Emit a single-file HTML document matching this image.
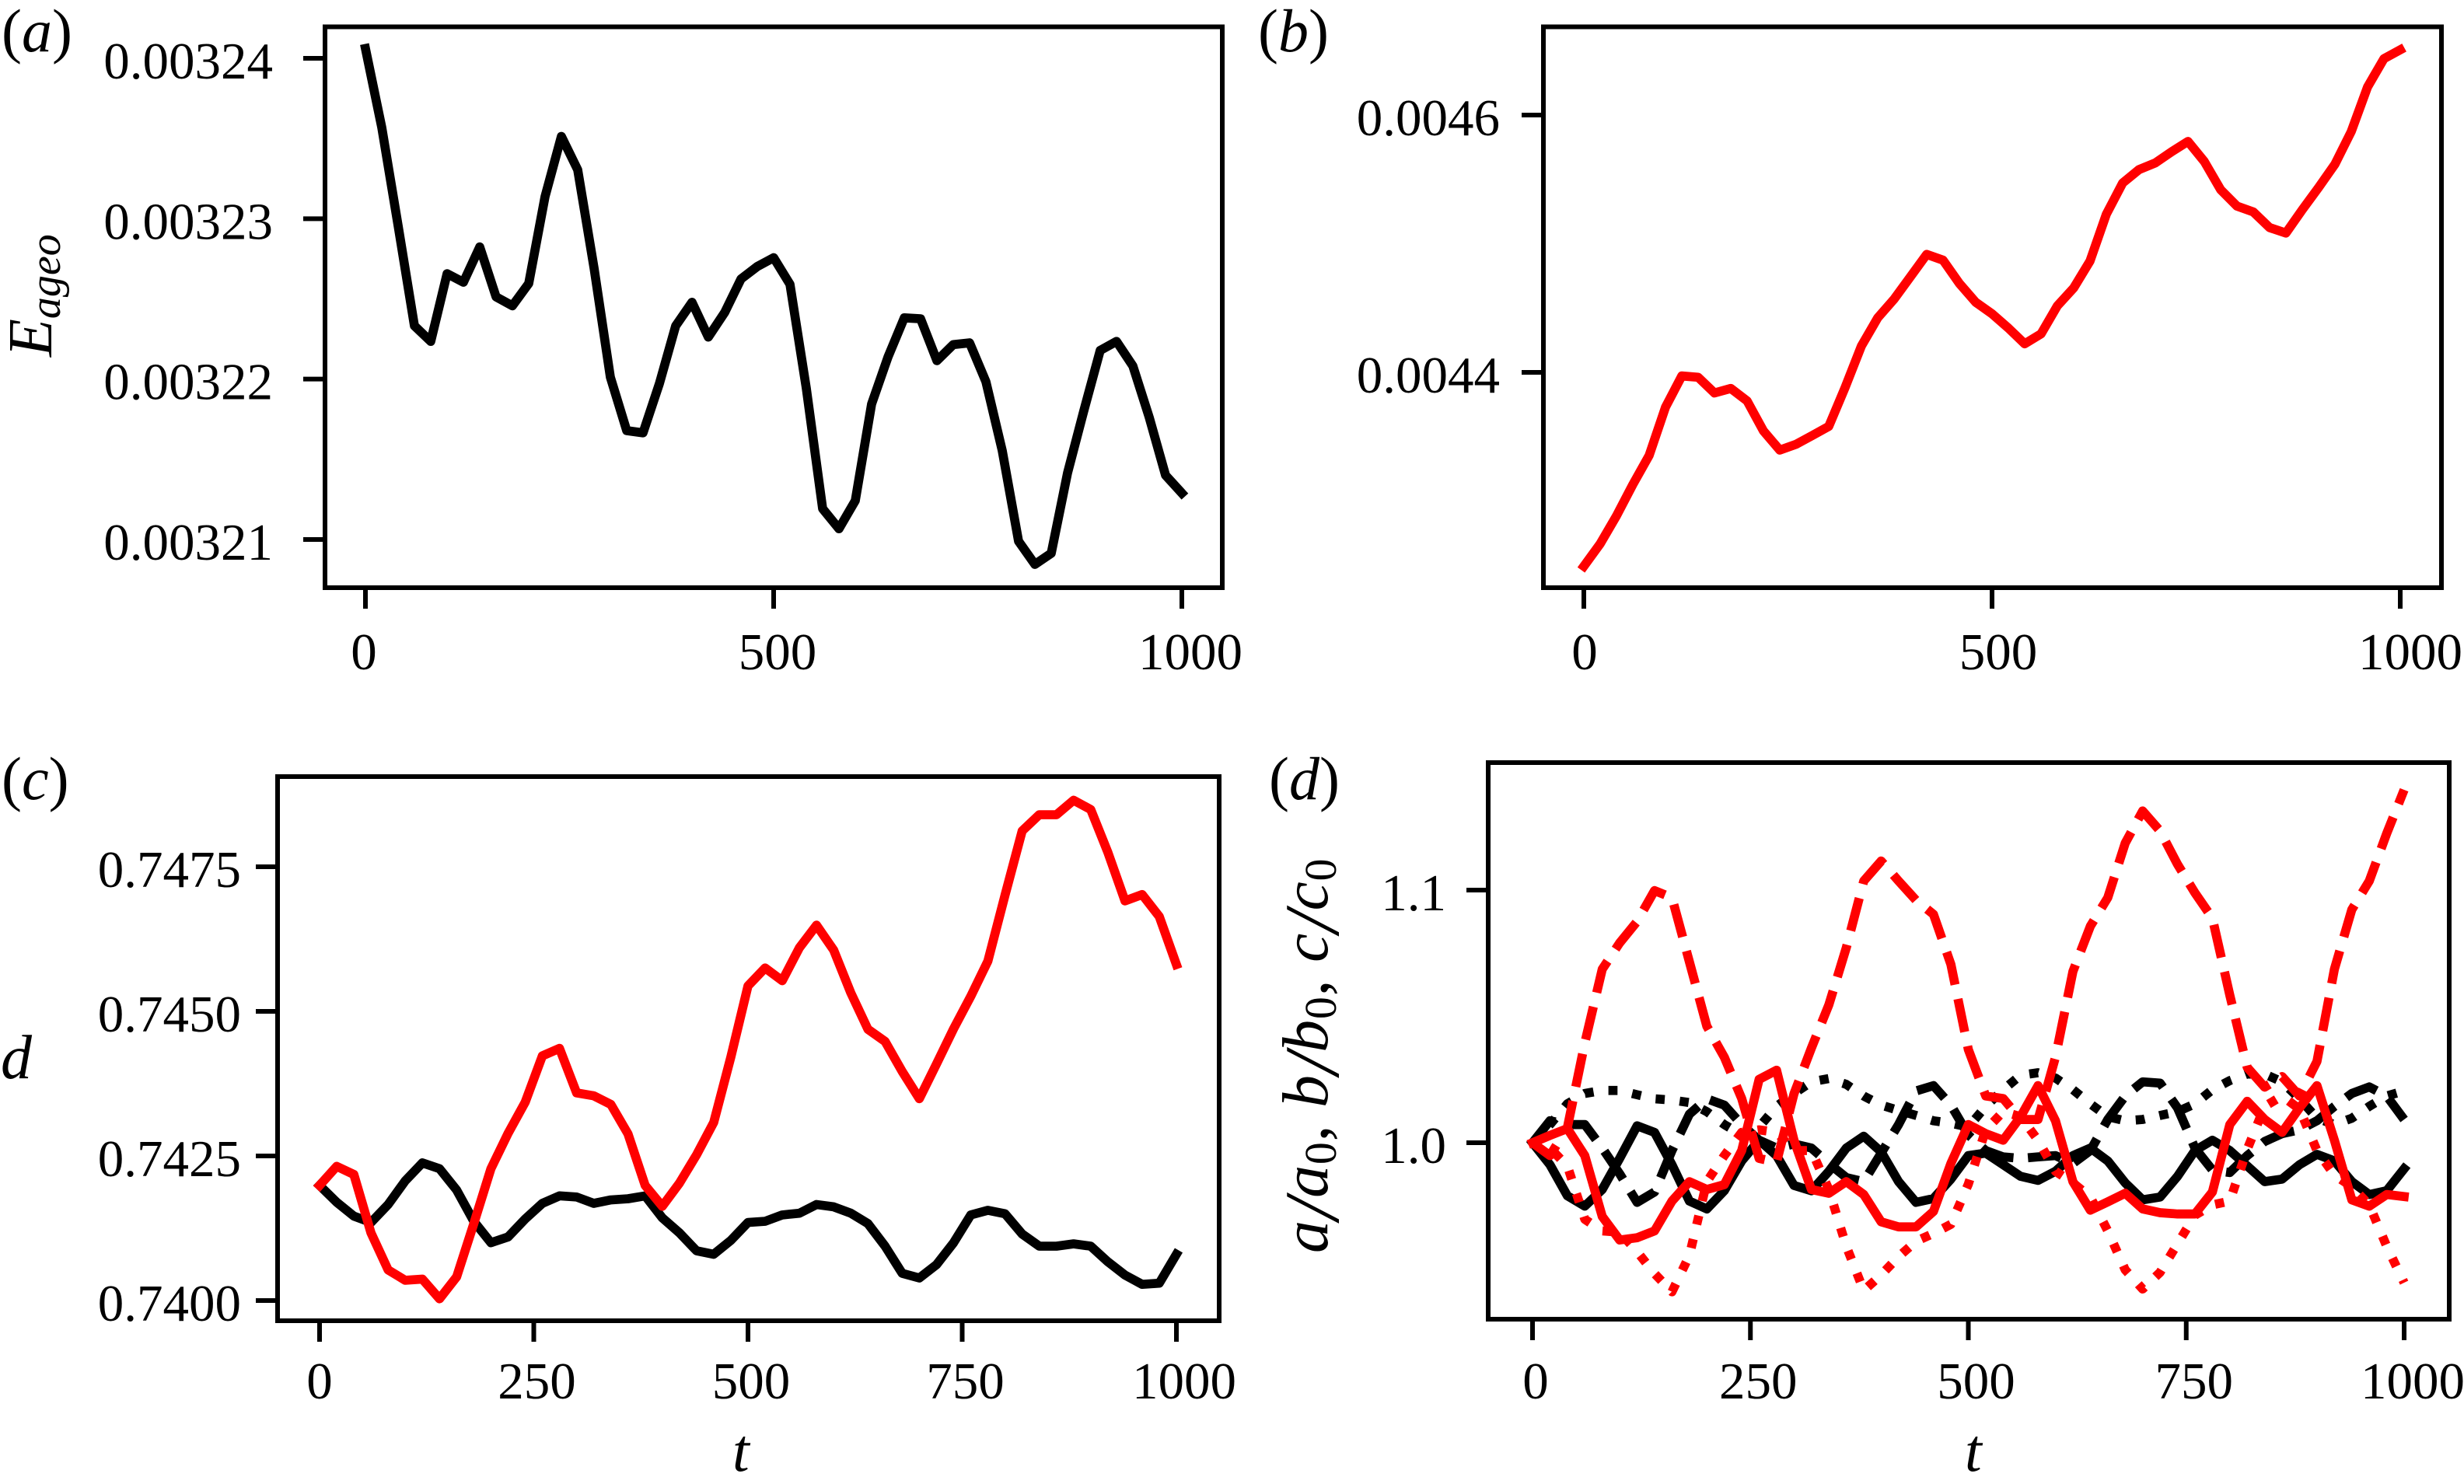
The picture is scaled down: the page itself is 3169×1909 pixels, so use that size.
<!DOCTYPE html>
<html lang="en">
<head>
<meta charset="utf-8">
<title>Four-panel time series</title>
<style>
html,body{margin:0;padding:0;background:#fff;}
svg{display:block;}
text{font-family:"Liberation Serif","DejaVu Serif",serif;fill:#000;}
</style>
</head>
<body>
<svg id="figure" xmlns="http://www.w3.org/2000/svg" width="3169" height="1909" viewBox="0 0 3169 1909">
<rect x="0" y="0" width="3169" height="1909" fill="#fff"/>
<text x="2" y="66" font-size="78">(<tspan font-style="italic">a</tspan>)</text>
<text x="1618" y="66" font-size="78">(<tspan font-style="italic">b</tspan>)</text>
<text x="2" y="1028" font-size="78">(<tspan font-style="italic">c</tspan>)</text>
<text x="1632" y="1028" font-size="78">(<tspan font-style="italic">d</tspan>)</text>
<text transform="translate(66,459) rotate(-90)" font-size="80" font-style="italic">E<tspan font-size="56" dy="11">ageo</tspan></text>
<text x="1" y="1387" font-size="80" font-style="italic">d</text>
<text transform="translate(1707,1612) rotate(-90)" font-size="84" letter-spacing="0.7"><tspan font-style="italic">a</tspan><tspan font-style="italic" font-size="100" dy="14">/</tspan><tspan font-style="italic" dy="-14">a</tspan><tspan font-size="58" dy="11">0</tspan><tspan dy="-11">, </tspan><tspan font-style="italic">b</tspan><tspan font-style="italic" font-size="100" dy="14">/</tspan><tspan font-style="italic" dy="-14">b</tspan><tspan font-size="58" dy="11">0</tspan><tspan dy="-11">, </tspan><tspan font-style="italic">c</tspan><tspan font-style="italic" font-size="100" dy="14">/</tspan><tspan font-style="italic" dy="-14">c</tspan><tspan font-size="58" dy="11">0</tspan></text>
<text x="942" y="1892" font-size="78" font-style="italic">t</text>
<text x="2527" y="1892" font-size="78" font-style="italic">t</text>
<g id="plots"></g>
</svg>
<script>
const times = [0,20,40,60,80,100,120,140,160,180,200,220,240,260,280,300,320,340,360,380,400,420,440,460,480,500,520,540,560,580,600,620,640,660,680,700,720,740,760,780,800,820,840,860,880,900,920,940,960,980,1000];

const energyRun1 = [0.00324061,0.00323569,0.00322957,0.00322332,0.00322235,0.00322657,0.00322604,0.00322824,0.00322513,0.00322457,0.00322596,0.00323138,0.00323513,0.00323305,0.00322693,0.00322012,0.00321679,0.00321665,0.00321971,0.00322332,0.00322479,0.00322262,0.00322415,0.00322624,0.00322702,0.00322757,0.00322591,0.00321943,0.00321192,0.00321067,0.00321242,0.00321845,0.00322137,0.00322382,0.00322376,0.00322115,0.00322215,0.00322226,0.00321984,0.00321554,0.00320989,0.00320845,0.00320914,0.00321415,0.00321804,0.00322179,0.00322235,0.00322082,0.00321762,0.00321401,0.00321289];

const energyRun2 = [0.0042493,0.0042667,0.0042885,0.0043128,0.0043354,0.0043729,0.0043972,0.0043962,0.0043840,0.0043875,0.0043778,0.0043545,0.0043396,0.0043441,0.0043510,0.0043580,0.0043882,0.0044205,0.0044424,0.0044569,0.0044743,0.0044917,0.0044872,0.0044691,0.0044545,0.0044455,0.0044344,0.0044222,0.0044299,0.0044517,0.0044656,0.0044865,0.0045229,0.0045472,0.0045576,0.0045628,0.0045715,0.0045795,0.0045639,0.0045420,0.0045292,0.0045247,0.0045125,0.0045083,0.0045264,0.0045437,0.0045618,0.0045872,0.0046219,0.0046438,0.0046507];

const dRun1 = [0.74199,0.74170,0.74146,0.74135,0.74166,0.74207,0.74238,0.74228,0.74191,0.74137,0.74100,0.74110,0.74141,0.74168,0.74181,0.74179,0.74168,0.74174,0.74176,0.74181,0.74143,0.74117,0.74086,0.74080,0.74104,0.74135,0.74137,0.74148,0.74151,0.74166,0.74162,0.74151,0.74133,0.74094,0.74047,0.74039,0.74062,0.74100,0.74148,0.74156,0.74150,0.74115,0.74094,0.74094,0.74098,0.74094,0.74067,0.74044,0.74028,0.74030,0.74080];

const dRun2 = [0.74199,0.74232,0.74218,0.74117,0.74053,0.74035,0.74037,0.74003,0.74041,0.74133,0.74228,0.74289,0.74343,0.74423,0.74436,0.74359,0.74354,0.74339,0.74288,0.74199,0.74163,0.74203,0.74252,0.74308,0.74421,0.74544,0.74575,0.74553,0.74610,0.74649,0.74606,0.74532,0.74469,0.74448,0.74396,0.74349,0.74409,0.74470,0.74526,0.74587,0.74701,0.74812,0.74840,0.74840,0.74865,0.74849,0.74775,0.74691,0.74702,0.74664,0.74581];

const ratioSolidRun1 = [1.0,0.9913,0.9790,0.9749,0.9815,0.9938,1.0067,1.0041,0.9913,0.9769,0.9738,0.9810,0.9928,1.0010,0.9949,0.9831,0.9810,0.9887,0.9979,1.0026,0.9964,0.9846,0.9764,0.9779,0.9856,0.9949,0.9959,0.9913,0.9867,0.9851,0.9887,0.9949,0.9979,0.9928,0.9841,0.9774,0.9785,0.9867,0.9969,1.0010,0.9969,0.9908,0.9846,0.9856,0.9913,0.9954,0.9928,0.9846,0.9795,0.9810,0.9897];

const ratioDashedRun1 = [1.0,1.0087,1.0072,1.0072,0.9979,0.9877,0.9764,0.9805,0.9969,1.0113,1.0174,1.0149,1.0072,1.0010,0.9979,0.9995,0.9979,0.9918,0.9862,0.9846,0.9959,1.0072,1.0205,1.0226,1.0149,1.0031,0.9969,0.9944,0.9938,0.9944,0.9949,0.9918,0.9969,1.0092,1.0185,1.0241,1.0236,1.0138,0.9979,0.9892,0.9882,0.9949,1.0005,1.0036,1.0051,1.0087,1.0144,1.0195,1.0221,1.0185,1.0092];

const ratioDottedRun1 = [1.0,1.0072,1.0154,1.0195,1.0207,1.0207,1.0190,1.0174,1.0169,1.0159,1.0123,1.0072,1.0031,1.0062,1.0144,1.0195,1.0241,1.0254,1.0231,1.0185,1.0149,1.0128,1.0108,1.0087,1.0077,1.0062,1.0144,1.0210,1.0267,1.0277,1.0256,1.0210,1.0154,1.0103,1.0087,1.0092,1.0108,1.0123,1.0154,1.0210,1.0246,1.0272,1.0272,1.0241,1.0174,1.0097,1.0072,1.0097,1.0144,1.0185,1.0205];

const ratioSolidRun2 = [1.0,1.0029,1.0056,0.9949,0.9708,0.9615,0.9624,0.9651,0.9769,0.9846,0.9815,0.9834,0.9969,1.0251,1.0287,1.0010,0.9815,0.9800,0.9846,0.9795,0.9687,0.9667,0.9667,0.9728,0.9918,1.0072,1.0036,1.0010,1.0103,1.0226,1.0087,0.9846,0.9733,0.9766,0.9800,0.9738,0.9723,0.9718,0.9718,0.9805,1.0072,1.0164,1.0092,1.0041,1.0138,1.0226,1.0010,0.9774,0.9749,0.9795,0.9787];

const ratioDashedRun2 = [1.0,0.9949,1.0060,1.0395,1.0687,1.0791,1.0876,1.0998,1.0970,1.0716,1.0461,1.0339,1.0175,0.9938,0.9923,1.0194,1.0375,1.0546,1.0772,1.1036,1.1115,1.1036,1.0960,1.0904,1.0706,1.0369,1.0185,1.0175,1.0092,1.0092,1.0339,1.0678,1.0857,1.0970,1.1186,1.1313,1.1234,1.1102,1.0989,1.0889,1.0584,1.0298,1.0220,1.0262,1.0185,1.0322,1.0687,1.0923,1.1036,1.1224,1.1397];

const ratioDottedRun2 = [1.0,0.9979,0.9908,0.9697,0.9651,0.9646,0.9569,0.9482,0.9410,0.9554,0.9846,0.9949,1.0041,1.0051,1.0041,0.9969,0.9969,0.9815,0.9590,0.9415,0.9477,0.9549,0.9610,0.9641,0.9677,0.9836,1.0051,1.0123,1.0103,1.0010,0.9887,0.9841,0.9785,0.9651,0.9497,0.9421,0.9487,0.9600,0.9713,0.9754,0.9769,0.9974,1.0144,1.0185,1.0133,0.9969,0.9872,0.9826,0.9754,0.9590,0.9446];

const xTicksTop = [0,500,1000];
const xTickLabelsTop = ['0','500','1000'];
const xTicksBottom = [0,250,500,750,1000];
const xTickLabelsBottom = ['0','250','500','750','1000'];
const yTicksA = [0.00321,0.00322,0.00323,0.00324];
const yTickLabelsA = ['0.00321','0.00322','0.00323','0.00324'];
const yTicksB = [0.0044,0.0046];
const yTickLabelsB = ['0.0044','0.0046'];
const yTicksC = [0.7400,0.7425,0.7450,0.7475];
const yTickLabelsC = ['0.7400','0.7425','0.7450','0.7475'];
const yTicksD = [1.0,1.1];
const yTickLabelsD = ['1.0','1.1'];

const SVGNS = 'http://www.w3.org/2000/svg';
const plots = document.getElementById('plots');
const LINE_WIDTH = 11.7;
const DASHES = {solid: null, dashed: '43.3 18.7', dotted: '11.7 19.3'};

function linearScale(d0, d1, r0, r1) {
  return function (v) { return r0 + (v - d0) * (r1 - r0) / (d1 - d0); };
}

function drawPanel(cfg) {
  const id = cfg.id;
  const xOf = linearScale(0, 1000, cfg.x0, cfg.x1);
  const yOf = linearScale(cfg.yD0, cfg.yD1, cfg.yR0, cfg.yR1);

  const group = document.createElementNS(SVGNS, 'g');
  
  
  plots.appendChild(group);

  cfg.series.forEach(function (s) {
    const d = times.map(function (t, i) {
      return (i ? 'L' : 'M') + xOf(t).toFixed(2) + ' ' + yOf(s.values[i]).toFixed(2);
    }).join(' ');
    const path = document.createElementNS(SVGNS, 'path');
    
    
    path.setAttribute('d', d);
    path.setAttribute('fill', 'none');
    path.setAttribute('stroke', s.color);
    path.setAttribute('stroke-width', LINE_WIDTH);
    path.setAttribute('stroke-linejoin', 'round');
    if (DASHES[s.style]) {
      path.setAttribute('stroke-dasharray', DASHES[s.style]);
      path.setAttribute('stroke-linecap', 'butt');
    } else {
      path.setAttribute('stroke-linecap', 'square');
    }
    group.appendChild(path);
  });

  const frame = document.createElementNS(SVGNS, 'rect');
  
  
  frame.setAttribute('x', cfg.left);
  frame.setAttribute('y', cfg.top);
  frame.setAttribute('width', cfg.right - cfg.left);
  frame.setAttribute('height', cfg.bottom - cfg.top);
  frame.setAttribute('fill', 'none');
  frame.setAttribute('stroke', '#000');
  frame.setAttribute('stroke-width', 6);
  group.appendChild(frame);

  cfg.xTicks.forEach(function (t, i) {
    const px = xOf(t);
    const tick = document.createElementNS(SVGNS, 'line');
    
    
    tick.setAttribute('x1', px);
    tick.setAttribute('x2', px);
    tick.setAttribute('y1', cfg.bottom);
    tick.setAttribute('y2', cfg.bottom + 27);
    tick.setAttribute('stroke', '#000');
    tick.setAttribute('stroke-width', 6);
    group.appendChild(tick);

    const label = document.createElementNS(SVGNS, 'text');
    
    
    label.setAttribute('x', px + cfg.xShift[cfg.xLabels[i].length]);
    label.setAttribute('y', cfg.xLabelY);
    label.setAttribute('font-size', 67);
    label.setAttribute('text-anchor', 'middle');
    label.textContent = cfg.xLabels[i];
    group.appendChild(label);
  });

  cfg.yTicks.forEach(function (v, i) {
    const py = yOf(v);
    const tick = document.createElementNS(SVGNS, 'line');
    
    
    tick.setAttribute('x1', cfg.left - 28);
    tick.setAttribute('x2', cfg.left);
    tick.setAttribute('y1', py);
    tick.setAttribute('y2', py);
    tick.setAttribute('stroke', '#000');
    tick.setAttribute('stroke-width', 6);
    group.appendChild(tick);

    const label = document.createElementNS(SVGNS, 'text');
    
    
    label.setAttribute('x', cfg.yLabelRight);
    label.setAttribute('y', py + 26);
    label.setAttribute('font-size', 67);
    label.setAttribute('text-anchor', 'end');
    label.textContent = cfg.yLabels[i];
    group.appendChild(label);
  });
}

drawPanel({
  id: 'a', left: 418, right: 1572, top: 34.5, bottom: 756,
  x0: 470, x1: 1520, yD0: 0.00321, yD1: 0.00324, yR0: 694, yR1: 75,
  xTicks: xTicksTop, xLabels: xTickLabelsTop, xLabelY: 861, xShift: {1: -2, 3: 5, 4: 11},
  yTicks: yTicksA, yLabels: yTickLabelsA, yLabelRight: 351,
  series: [{name: 'energy-black', values: energyRun1, color: '#000', style: 'solid'}]
});
drawPanel({
  id: 'b', left: 1985, right: 3140, top: 34.5, bottom: 756,
  x0: 2037, x1: 3087, yD0: 0.0044, yD1: 0.0046, yR0: 479, yR1: 148,
  xTicks: xTicksTop, xLabels: xTickLabelsTop, xLabelY: 861, xShift: {1: 1, 3: 8, 4: 13},
  yTicks: yTicksB, yLabels: yTickLabelsB, yLabelRight: 1929,
  series: [{name: 'energy-red', values: energyRun2, color: '#f00', style: 'solid'}]
});
drawPanel({
  id: 'c', left: 357, right: 1568, top: 999, bottom: 1699,
  x0: 411, x1: 1513, yD0: 0.74, yD1: 0.7475, yR0: 1673, yR1: 1115,
  xTicks: xTicksBottom, xLabels: xTickLabelsBottom, xLabelY: 1799, xShift: {1: 0, 3: 4, 4: 10},
  yTicks: yTicksC, yLabels: yTickLabelsC, yLabelRight: 310,
  series: [
    {name: 'd-black', values: dRun1, color: '#000', style: 'solid'},
    {name: 'd-red', values: dRun2, color: '#f00', style: 'solid'}
  ]
});
drawPanel({
  id: 'd', left: 1914, right: 3150, top: 981, bottom: 1697,
  x0: 1971, x1: 3092, yD0: 1.0, yD1: 1.1, yR0: 1470, yR1: 1145,
  xTicks: xTicksBottom, xLabels: xTickLabelsBottom, xLabelY: 1799, xShift: {1: 4, 3: 10, 4: 11},
  yTicks: yTicksD, yLabels: yTickLabelsD, yLabelRight: 1860,
  series: [
    {name: 'a-black-solid', values: ratioSolidRun1, color: '#000', style: 'solid'},
    {name: 'b-black-dashed', values: ratioDashedRun1, color: '#000', style: 'dashed'},
    {name: 'c-black-dotted', values: ratioDottedRun1, color: '#000', style: 'dotted'},
    {name: 'c-red-dotted', values: ratioDottedRun2, color: '#f00', style: 'dotted'},
    {name: 'b-red-dashed', values: ratioDashedRun2, color: '#f00', style: 'dashed'},
    {name: 'a-red-solid', values: ratioSolidRun2, color: '#f00', style: 'solid'}
  ]
});
</script>
</body>
</html>
